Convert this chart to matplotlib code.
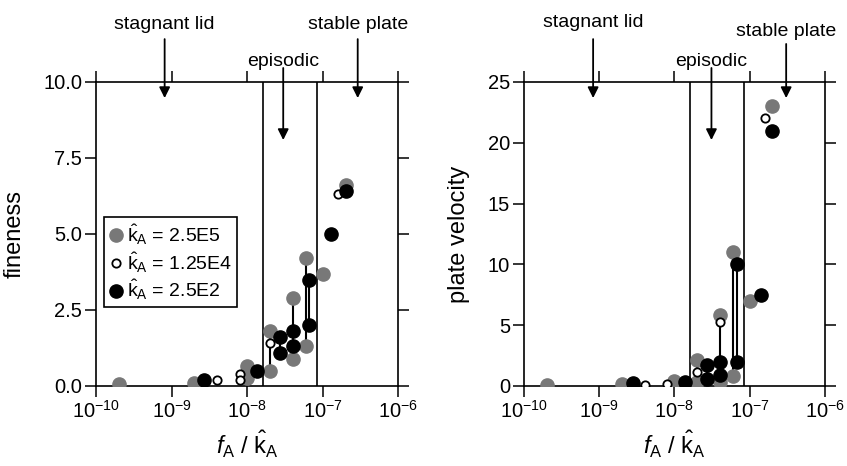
import numpy as np
import matplotlib
matplotlib.use("Agg")
import matplotlib.pyplot as plt
from matplotlib.ticker import NullLocator, FixedLocator

plt.rcParams['font.family'] = ['Liberation Sans', 'DejaVu Sans']
plt.rcParams['mathtext.fontset'] = 'custom'
plt.rcParams['mathtext.rm'] = 'Liberation Sans'
plt.rcParams['mathtext.it'] = 'Liberation Sans:italic'
plt.rcParams['mathtext.bf'] = 'Liberation Sans:bold'

# ---- data: fineness (left panel) ----
fin_gray_x = [2e-10, 2e-9, 1e-8, 1e-8, 2e-8, 2e-8, 4e-8, 4e-8, 6e-8, 6e-8, 1e-7, 2e-7]
fin_gray_y = [0.05, 0.1, 0.65, 0.25, 1.8, 0.5, 2.9, 0.9, 4.2, 1.3, 3.7, 6.6]
fin_open_x = [4e-9, 8e-9, 8e-9, 2e-8, 1.6e-7]
fin_open_y = [0.2, 0.4, 0.2, 1.4, 6.3]
fin_black_x = [2.7e-9, 1.35e-8, 2.7e-8, 2.7e-8, 4e-8, 4e-8, 6.5e-8, 6.5e-8, 1.3e-7, 2e-7]
fin_black_y = [0.2, 0.5, 1.6, 1.1, 1.8, 1.3, 3.5, 2.0, 5.0, 6.4]

# ---- data: plate velocity (right panel) ----
vel_gray_x = [2e-10, 2e-9, 1e-8, 2e-8, 2e-8, 4e-8, 4e-8, 6e-8, 6e-8, 1e-7, 2e-7]
vel_gray_y = [0.1, 0.15, 0.45, 2.1, 0.3, 5.8, 0.35, 11.0, 0.8, 7.0, 23.0]
vel_open_x = [4e-9, 8e-9, 2e-8, 4e-8, 1.6e-7]
vel_open_y = [0.1, 0.15, 1.15, 5.3, 22.0]
vel_black_x = [2.8e-9, 1.4e-8, 2.7e-8, 2.7e-8, 4e-8, 4e-8, 6.8e-8, 6.8e-8, 1.4e-7, 2e-7]
vel_black_y = [0.25, 0.3, 1.7, 0.6, 2.0, 0.9, 10.0, 2.0, 7.45, 21.0]

regime_bounds = [1.6e-8, 8.4e-8]
labels = [r'$\hat{\mathrm{k}}_{\mathrm{A}}$ = 2.5E5',
          r'$\hat{\mathrm{k}}_{\mathrm{A}}$ = 1.25E4',
          r'$\hat{\mathrm{k}}_{\mathrm{A}}$ = 2.5E2']

GRAY = '#787878'
FS = 14


def connect(ax, xs, ys):
    # vertical bar between values that share the same x
    xs = np.array(xs)
    ys = np.array(ys)
    for xv in np.unique(xs):
        sel = ys[xs == xv]
        if len(sel) > 1:
            ax.vlines(xv, sel.min(), sel.max(), color='k', lw=1.5, zorder=2)


def panel(ax, series, ylim, yticks, yticklabels, ylabel, arrows, ylab_x):
    for xs, ys in series:
        connect(ax, xs, ys)
    (gx, gy), (ox, oy), (bx, by) = series
    ax.plot(gx, gy, 'o', ms=9.5, color=GRAY, mec=GRAY, zorder=3, label=labels[0])
    ax.plot(ox, oy, 'o', ms=6, mfc='white', mec='k', mew=1.3, zorder=4, label=labels[1])
    ax.plot(bx, by, 'o', ms=9.5, color='k', zorder=5, label=labels[2])
    for b in regime_bounds:
        ax.axvline(b, color='k', lw=1.2, zorder=1)

    ax.set_xscale('log')
    ax.set_xlim(1e-10, 1e-6)
    ax.set_ylim(*ylim)
    ax.xaxis.set_major_locator(FixedLocator([1e-10, 1e-9, 1e-8, 1e-7, 1e-6]))
    ax.xaxis.set_minor_locator(NullLocator())
    ax.set_yticks(yticks)
    ax.set_yticklabels(yticklabels)
    ax.tick_params(which='major', direction='out', length=8, width=1.1,
                   top=True, right=True, labelsize=14.5, pad=2)
    for s in ax.spines.values():
        s.set_linewidth(1.2)

    ax.set_ylabel(ylabel, fontsize=17)
    ax.yaxis.set_label_coords(ylab_x, 0.5)
    ax.set_xlabel(r'$f_{\mathrm{A}}$ / $\hat{\mathrm{k}}_{\mathrm{A}}$', fontsize=17)
    ax.xaxis.set_label_coords(0.5, -0.14)

    for text, xv, ytxt, ystart, ytip in arrows:
        ax.annotate('', xy=(xv, ytip), xytext=(xv, ystart),
                    xycoords=('data', 'axes fraction'),
                    textcoords=('data', 'axes fraction'),
                    arrowprops=dict(arrowstyle='-|>', color='k', lw=1.3,
                                    mutation_scale=16, shrinkA=0, shrinkB=0),
                    annotation_clip=False)
        ax.text(xv, ytxt, text, transform=ax.get_xaxis_transform(),
                ha='center', va='baseline', fontsize=FS, clip_on=False)


fig = plt.figure(figsize=(8.47, 4.66), dpi=100)
ax1 = fig.add_axes([0.1133, 0.1717, 0.357, 0.6524])
ax2 = fig.add_axes([0.6186, 0.1717, 0.3554, 0.6524])

panel(ax1,
      [(fin_gray_x, fin_gray_y), (fin_open_x, fin_open_y), (fin_black_x, fin_black_y)],
      (0, 10), [0, 2.5, 5, 7.5, 10], ['0.0', '2.5', '5.0', '7.5', '10.0'],
      'fineness',
      [('stagnant lid', 8.1e-10, 1.174, 1.141, 0.947),
       ('episodic', 3.0e-8, 1.052, 1.046, 0.809),
       ('stable plate', 2.9e-7, 1.174, 1.141, 0.947)],
      -0.234)

panel(ax2,
      [(vel_gray_x, vel_gray_y), (vel_open_x, vel_open_y), (vel_black_x, vel_black_y)],
      (0, 25), [0, 5, 10, 15, 20, 25], ['0', '5', '10', '15', '20', '25'],
      'plate velocity',
      [('stagnant lid', 8.3e-10, 1.18, 1.141, 0.947),
       ('episodic', 3.1e-8, 1.052, 1.046, 0.809),
       ('stable plate', 3.05e-7, 1.151, 1.125, 0.947)],
      -0.179)

leg = ax1.legend(loc='upper left', bbox_to_anchor=(0.026, 0.556), borderaxespad=0,
                 fontsize=FS, frameon=True, fancybox=False, edgecolor='k',
                 handlelength=0.8, handletextpad=0.15, labelspacing=0.15,
                 borderpad=0.25, framealpha=1)
leg.get_frame().set_linewidth(1.2)

fig.savefig('out.png', dpi=100)
